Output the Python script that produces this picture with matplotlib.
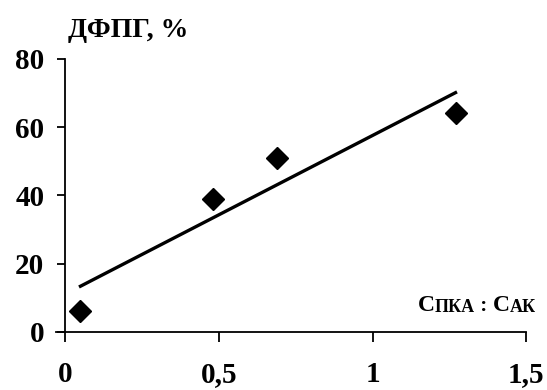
import numpy as np
import matplotlib
matplotlib.use("Agg")
import matplotlib.pyplot as plt

# data
ratio = [0.05, 0.48, 0.69, 1.27]      # Спка : Сак
dfpg = [6, 39, 51, 64]                 # ДФПГ, %
x_ticks = [0, 0.5, 1, 1.5]
x_labels = ["0", "0,5", "1", "1,5"]
y_ticks = [0, 20, 40, 60, 80]

plt.rcParams['font.family'] = ['Liberation Serif', 'DejaVu Serif']
plt.rcParams['font.weight'] = 'bold'

fig = plt.figure(figsize=(5.47, 3.9), dpi=100)
ax = fig.add_axes([0.119, 0.149, 0.843, 0.700])

ax.plot(ratio, dfpg, 'D', color='black', markersize=11, zorder=3)

# linear trend line
k, b = np.polyfit(ratio, dfpg, 1)
xs = np.array([min(ratio), max(ratio)])
ax.plot(xs, k * xs + b, color='black', linewidth=2.4)

ax.set_xlim(0, 1.5)
ax.set_ylim(0, 80)
ax.set_xticks(x_ticks)
ax.set_xticklabels(x_labels)
ax.set_yticks(y_ticks)

for s in ['top', 'right']:
    ax.spines[s].set_visible(False)
for s in ['left', 'bottom']:
    ax.spines[s].set_linewidth(1.3)
ax.spines['bottom'].set_bounds(-0.03, 1.5)

ax.tick_params(axis='x', direction='out', length=7, width=1.3, pad=14, labelsize=21)
ax.tick_params(axis='y', direction='out', length=6, width=1.3, pad=9, labelsize=21)
for lbl in ax.get_xticklabels() + ax.get_yticklabels():
    lbl.set_fontweight('bold')

# y axis title
fig.text(0.125, 0.905, "ДФПГ, %", fontsize=20, fontweight='bold',
         ha='left', va='baseline')

# x axis title with small caps look
t1 = ax.text(0.765, 0.075, "С", transform=ax.transAxes, fontsize=17,
             fontweight='bold', ha='left', va='baseline')
t2 = ax.annotate("ПКА", xy=(1, 0), xycoords=t1, fontsize=13,
                 fontweight='bold', ha='left', va='bottom')
t3 = ax.annotate(" : ", xy=(1, 0), xycoords=t2, fontsize=15,
                 fontweight='bold', ha='left', va='bottom')
t4 = ax.annotate("С", xy=(1, 0), xycoords=t3, fontsize=17,
                 fontweight='bold', ha='left', va='bottom')
t5 = ax.annotate("АК", xy=(1, 0), xycoords=t4, fontsize=13,
                 fontweight='bold', ha='left', va='bottom')

fig.savefig("out.png", dpi=100)
